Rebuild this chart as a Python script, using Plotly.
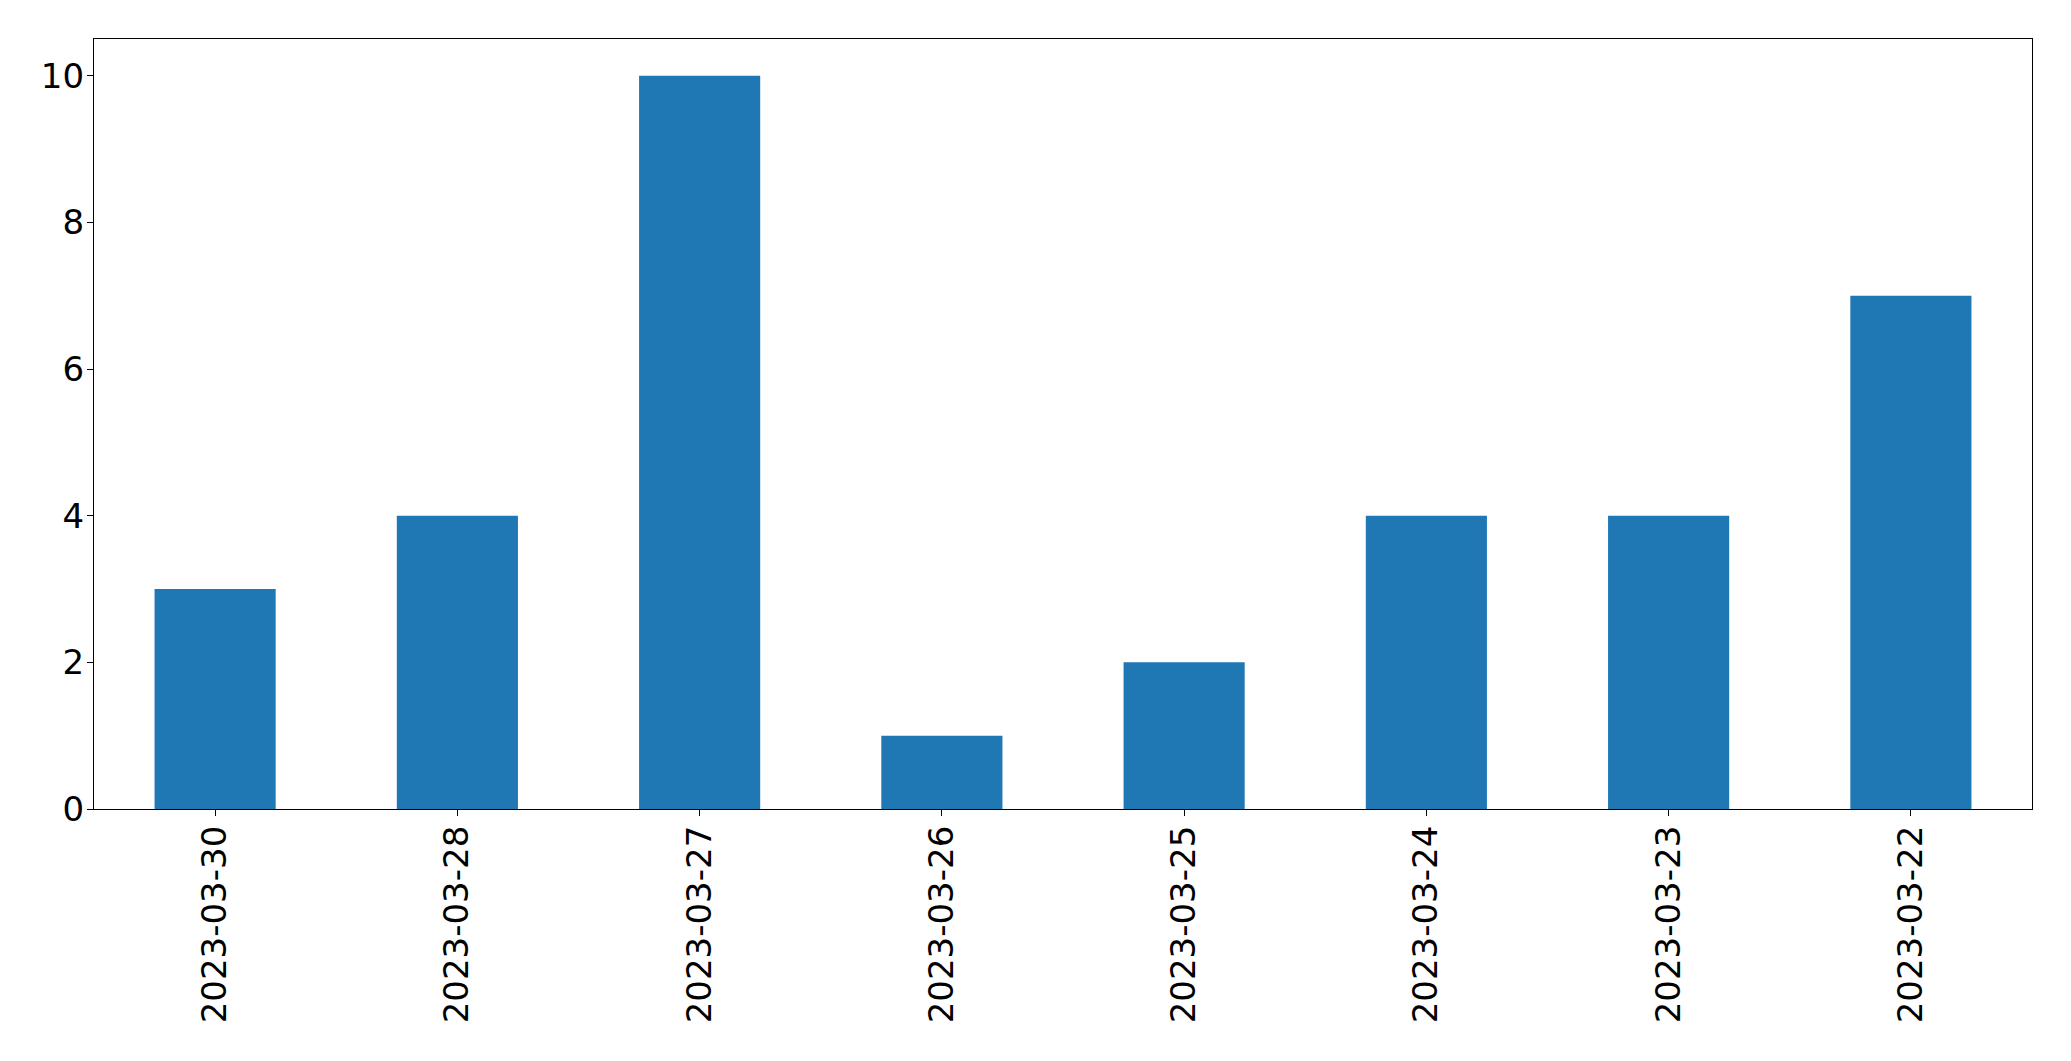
import plotly.graph_objects as go

dates = ["2023-03-30", "2023-03-28", "2023-03-27", "2023-03-26",
         "2023-03-25", "2023-03-24", "2023-03-23", "2023-03-22"]
counts = [3, 4, 10, 1, 2, 4, 4, 7]
y_ticks = [0, 2, 4, 6, 8, 10]

fig = go.Figure(go.Bar(x=list(range(len(dates))), y=counts, width=0.5,
                       marker=dict(color="#1f77b4", line=dict(width=0))))

font = dict(family="DejaVu Sans", size=34, color="black")
fig.update_layout(
    width=2063, height=1053,
    margin=dict(l=86, r=39, t=31, b=252),
    paper_bgcolor="white", plot_bgcolor="white",
    showlegend=False, font=font,
)
fig.update_xaxes(
    range=[-0.5, len(dates) - 0.5],
    tickmode="array", tickvals=list(range(len(dates))), ticktext=dates,
    tickangle=-90, ticks="outside", ticklen=6, tickwidth=1.3, tickcolor="black",
    ticklabelstandoff=-4,
    showline=True, linecolor="black", linewidth=1.3, mirror=True,
    showgrid=False, zeroline=False, tickfont=font,
)
fig.update_yaxes(
    range=[0, 10.5],
    tickmode="array", tickvals=y_ticks, ticktext=[str(v) for v in y_ticks],
    ticks="outside", ticklen=6, tickwidth=1.3, tickcolor="black",
    ticklabelstandoff=-4,
    showline=True, linecolor="black", linewidth=1.3, mirror=True,
    showgrid=False, zeroline=False, tickfont=font,
)
fig.write_html("out.html")
